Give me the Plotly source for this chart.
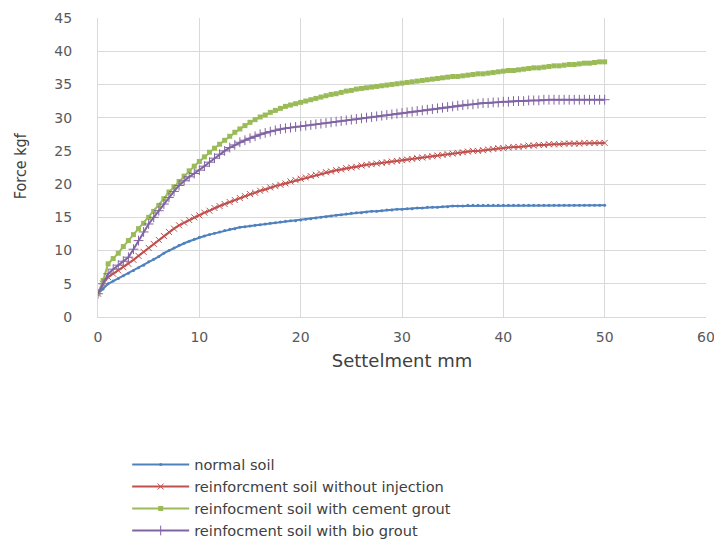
import plotly.graph_objects as go

settlement = [i * 0.5 for i in range(101)]

normal_soil = [3.5, 4.2, 5.0, 5.4, 5.8, 6.2, 6.6, 7.0, 7.4, 7.8,
               8.3, 8.7, 9.1, 9.6, 10.0, 10.4, 10.8, 11.1, 11.4, 11.7,
               12.0, 12.2, 12.4, 12.6, 12.8, 13.0, 13.2, 13.3, 13.5, 13.6,
               13.7, 13.8, 13.9, 14.0, 14.1, 14.2, 14.3, 14.4, 14.5, 14.5,
               14.6, 14.7, 14.8, 14.9, 15.0, 15.1, 15.2, 15.3, 15.4, 15.5,
               15.6, 15.7, 15.7, 15.8, 15.9, 15.9, 16.0, 16.1, 16.1, 16.2,
               16.2, 16.3, 16.3, 16.4, 16.4, 16.5, 16.5, 16.5, 16.6, 16.6,
               16.7, 16.7, 16.7, 16.8, 16.8, 16.8, 16.8, 16.8, 16.8, 16.8,
               16.8, 16.8, 16.8, 16.8, 16.8, 16.8, 16.8, 16.8, 16.8, 16.8,
               16.8, 16.8, 16.8, 16.8, 16.8, 16.8, 16.8, 16.8, 16.8, 16.8,
               16.8]

no_injection = [3.5, 5.0, 6.0, 6.5, 7.0, 7.5, 8.0, 8.6, 9.2, 9.8,
                10.4, 11.0, 11.6, 12.2, 12.8, 13.3, 13.8, 14.2, 14.6, 15.0,
                15.3, 15.7, 16.0, 16.4, 16.7, 17.0, 17.3, 17.6, 17.9, 18.2,
                18.5, 18.7, 19.0, 19.2, 19.5, 19.7, 19.9, 20.1, 20.4, 20.6,
                20.8, 21.0, 21.2, 21.4, 21.6, 21.8, 21.9, 22.1, 22.2, 22.4,
                22.5, 22.6, 22.8, 22.9, 23.0, 23.1, 23.2, 23.3, 23.4, 23.5,
                23.6, 23.7, 23.8, 23.9, 24.0, 24.1, 24.2, 24.3, 24.4, 24.5,
                24.6, 24.7, 24.8, 24.9, 25.0, 25.0, 25.1, 25.2, 25.3, 25.4,
                25.4, 25.5, 25.6, 25.6, 25.7, 25.8, 25.8, 25.9, 25.9, 26.0,
                26.0, 26.0, 26.1, 26.1, 26.1, 26.1, 26.2, 26.2, 26.2, 26.2,
                26.2]

cement_grout = [3.5, 5.5, 8.0, 8.8, 9.6, 10.6, 11.5, 12.4, 13.3, 14.1,
                15.0, 15.9, 16.8, 17.8, 18.8, 19.6, 20.4, 21.2, 22.0, 22.7,
                23.4, 24.1, 24.8, 25.4, 26.0, 26.6, 27.2, 27.8, 28.3, 28.8,
                29.3, 29.7, 30.1, 30.4, 30.8, 31.1, 31.4, 31.7, 31.9, 32.1,
                32.3, 32.5, 32.7, 32.9, 33.1, 33.3, 33.5, 33.6, 33.8, 34.0,
                34.1, 34.3, 34.4, 34.5, 34.6, 34.7, 34.8, 34.9, 35.0, 35.1,
                35.2, 35.3, 35.4, 35.5, 35.6, 35.7, 35.8, 35.9, 36.0, 36.1,
                36.2, 36.2, 36.3, 36.4, 36.5, 36.6, 36.6, 36.7, 36.8, 36.9,
                37.0, 37.1, 37.1, 37.2, 37.3, 37.4, 37.5, 37.5, 37.6, 37.7,
                37.8, 37.8, 37.9, 38.0, 38.0, 38.1, 38.2, 38.2, 38.3, 38.4,
                38.4]

bio_grout = [3.5, 5.0, 6.5, 7.2, 7.8, 8.4, 9.0, 10.2, 11.5, 12.8,
             14.0, 15.0, 16.0, 17.0, 18.0, 18.9, 19.8, 20.5, 21.1, 21.6,
             22.1, 22.7, 23.3, 23.9, 24.5, 25.0, 25.5, 25.9, 26.3, 26.6,
             26.9, 27.2, 27.5, 27.7, 27.9, 28.1, 28.3, 28.4, 28.5, 28.6,
             28.7, 28.8, 28.9, 29.0, 29.1, 29.2, 29.3, 29.4, 29.5, 29.6,
             29.7, 29.8, 29.9, 30.0, 30.1, 30.2, 30.3, 30.4, 30.5, 30.6,
             30.7, 30.8, 30.9, 31.0, 31.1, 31.2, 31.3, 31.4, 31.5, 31.6,
             31.7, 31.8, 31.9, 32.0, 32.0, 32.1, 32.2, 32.2, 32.3, 32.3,
             32.4, 32.4, 32.5, 32.5, 32.5, 32.6, 32.6, 32.6, 32.7, 32.7,
             32.7, 32.7, 32.7, 32.7, 32.7, 32.7, 32.7, 32.7, 32.7, 32.7,
             32.7]

series_names = ["normal soil",
                "reinforcment soil without injection",
                "reinfocment soil with cement grout",
                "reinfocment soil with bio grout"]
series_values = [normal_soil, no_injection, cement_grout, bio_grout]
colors = ["#4f81bd", "#c0504d", "#9bbb59", "#8064a2"]
markers = [dict(symbol="circle", size=3),
           dict(symbol="x-thin", size=6, line=dict(width=1)),
           dict(symbol="square", size=5),
           dict(symbol="cross-thin", size=7, line=dict(width=1))]

x_ticks = [0, 10, 20, 30, 40, 50, 60]
y_ticks = [0, 5, 10, 15, 20, 25, 30, 35, 40, 45]

fig = go.Figure()
for name, vals, col, mk in zip(series_names, series_values, colors, markers):
    m = dict(mk)
    m["color"] = col
    if "line" in m:
        m["line"] = dict(width=1, color=col)
    fig.add_trace(go.Scatter(x=settlement, y=vals, mode="lines+markers",
                             name=name, line=dict(color=col, width=2),
                             marker=m))

fig.update_layout(
    width=714, height=531,
    paper_bgcolor="white", plot_bgcolor="white",
    margin=dict(l=90, r=16, t=10, b=222, autoexpand=False),
    font=dict(family="DejaVu Sans", color="#595959"),
    legend=dict(x=0.048, y=-0.44, xanchor="left", yanchor="top",
                font=dict(size=14.6, color="#404040"),
                tracegroupgap=0, itemwidth=57,
                bgcolor="rgba(0,0,0,0)"),
    showlegend=True,
    annotations=[dict(text="Force kgf", xref="paper", yref="paper",
                      x=-0.128, y=0.505, xanchor="center", yanchor="middle",
                      textangle=-90, showarrow=False,
                      font=dict(size=16, color="#404040",
                                family="DejaVu Sans Condensed"))],
)
fig.update_xaxes(range=[0, 60], tickvals=x_ticks, showgrid=True,
                 gridcolor="#d9d9d9", gridwidth=1, zeroline=False,
                 showline=True, linecolor="#d9d9d9", automargin=False,
                 tickfont=dict(size=14, color="#595959"),
                 ticks="", ticklabelstandoff=7,
                 title=dict(text="Settelment mm",
                            font=dict(size=18, color="#404040"),
                            standoff=10))
fig.update_yaxes(range=[0, 45], tickvals=y_ticks, showgrid=True,
                 gridcolor="#d9d9d9", gridwidth=1, zeroline=False,
                 showline=True, linecolor="#d9d9d9", automargin=False,
                 tickfont=dict(size=14, color="#595959"),
                 ticks="", ticklabelstandoff=22)

fig.write_html("out.html")
